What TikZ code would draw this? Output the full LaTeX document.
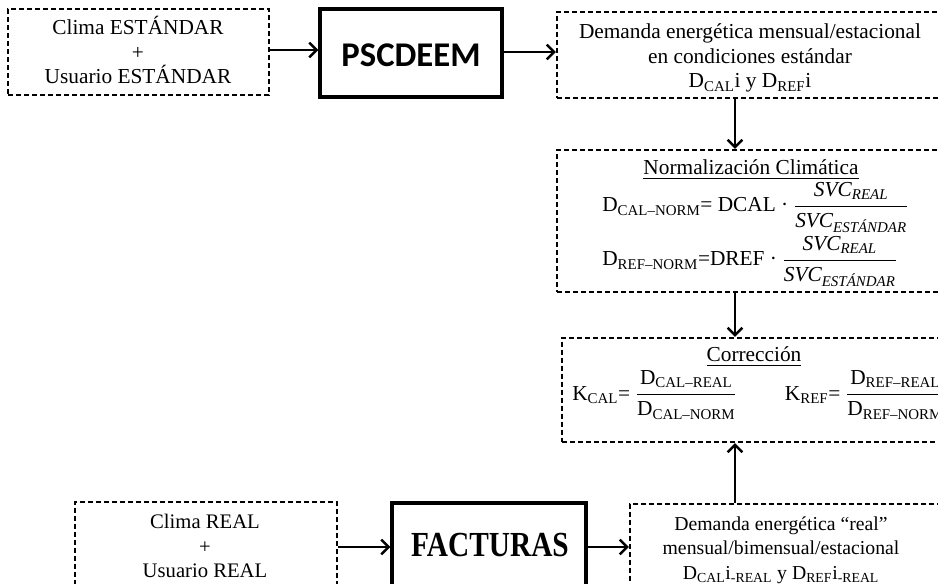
\documentclass[tikz,border=0pt]{standalone}
\usepackage{amsmath}
\usepackage{fontspec}
\setmainfont{Liberation Serif}
\newfontfamily\boxsans{Carlito}
\usetikzlibrary{arrows.meta, positioning, fit}

\begin{document}
\begin{tikzpicture}[
    x=0.75pt, y=-0.75pt,
    dashbox/.style={draw, dash pattern=on 4pt off 2pt, line width=1.75pt, inner sep=0pt},
    solidbox/.style={draw, line width=2.6pt, inner sep=0pt},
    boxtext/.style={align=center, font=\fontsize{16}{18.5}\selectfont, inner sep=0pt},
    eqline/.style={anchor=base, font=\fontsize{16}{18.5}\selectfont, inner sep=0pt},
    flow/.style={-{Straight Barb[length=5.5pt,width=11pt]}, line width=1.8pt},
]
    \useasboundingbox (0,0) rectangle (938,584);
    \clip (0,0) rectangle (938,584);

    % boxes
    \node[dashbox, fit={(8,9) (269,95)}] (estandar) {};
    \node[solidbox, fit={(320,9) (502,97)}] (pscdeem) {};
    \node[dashbox, fit={(557,12) (960,98)}] (demstd) {};
    \node[dashbox, fit={(557,150) (960,292)}] (norm) {};
    \node[dashbox, fit={(562,338) (960,442)}] (corr) {};
    \node[dashbox, fit={(75,502) (337,620)}] (real) {};
    \node[solidbox, fit={(392,503) (586,620)}] (facturas) {};
    \node[dashbox, fit={(630,504) (960,620)}] (demreal) {};

    % texts
    \node[boxtext] (t-estandar) at (138,50) {Clima ESTÁNDAR\\+\\Usuario ESTÁNDAR};
    \node[inner sep=0pt, font=\boxsans\bfseries\fontsize{26}{26}\selectfont] (t-pscdeem) at (411,55) {PSCDEEM};
    \node[boxtext] (t-demstd) at (750,58) {Demanda energética mensual/estacional\\en condiciones estándar\\D\textsubscript{CAL}i y D\textsubscript{REF}i};
    \node[eqline] (t-norm) at (751,175) {\underline{Normalización Climática}};
    \node[eqline, anchor=base west] (eq-cal) at (602,212) {D\textsubscript{CAL–NORM}= DCAL · $\dfrac{\textit{SVC}_{\textit{REAL}}}{\textit{SVC}_{\textit{ESTÁNDAR}}}$};
    \node[eqline, anchor=base west] (eq-ref) at (602,266) {D\textsubscript{REF–NORM}=DREF · $\dfrac{\textit{SVC}_{\textit{REAL}}}{\textit{SVC}_{\textit{ESTÁNDAR}}}$};
    \node[eqline] (t-corr) at (754,362) {\underline{Corrección}};
    \node[eqline, anchor=base west] (eq-k) at (572,400) {K\textsubscript{CAL}= $\dfrac{\text{D\textsubscript{CAL–REAL}}}{\text{D\textsubscript{CAL–NORM}}}$\hspace{36pt}K\textsubscript{REF}= $\dfrac{\text{D\textsubscript{REF–REAL}}}{\text{D\textsubscript{REF–NORM}}}$};
    \node[boxtext, font=\fontsize{15.5}{18.5}\selectfont] (t-real) at (205,546) {Clima REAL\\+\\Usuario REAL};
    \node[inner sep=0pt, font=\bfseries\fontsize{22}{22}\selectfont] (t-facturas) at (490,545) {\scalebox{1}[1.2]{FACTURAS}};
    \node[boxtext, font=\fontsize{14.8}{18.5}\selectfont] (t-demreal) at (781,550) {Demanda energética “real”\\mensual/bimensual/estacional\\D\textsubscript{CAL}i\textsubscript{-REAL} y D\textsubscript{REF}i\textsubscript{-REAL}};

    % connectors
    \coordinate (axis) at (735,0);
    \coordinate (rowb) at (0,547);
    \draw[flow] (estandar.east |- 0,50) -- (pscdeem.west |- 0,50);
    \draw[flow] (pscdeem.east |- 0,52) -- (demstd.west |- 0,52);
    \draw[flow] (demstd.south -| axis) -- (norm.north -| axis);
    \draw[flow] (norm.south -| axis) -- (corr.north -| axis);
    \draw[flow] (demreal.north -| axis) -- (corr.south -| axis);
    \draw[flow] (real.east |- rowb) -- (facturas.west |- rowb);
    \draw[flow] (facturas.east |- rowb) -- (demreal.west |- rowb);
\end{tikzpicture}
\end{document}
